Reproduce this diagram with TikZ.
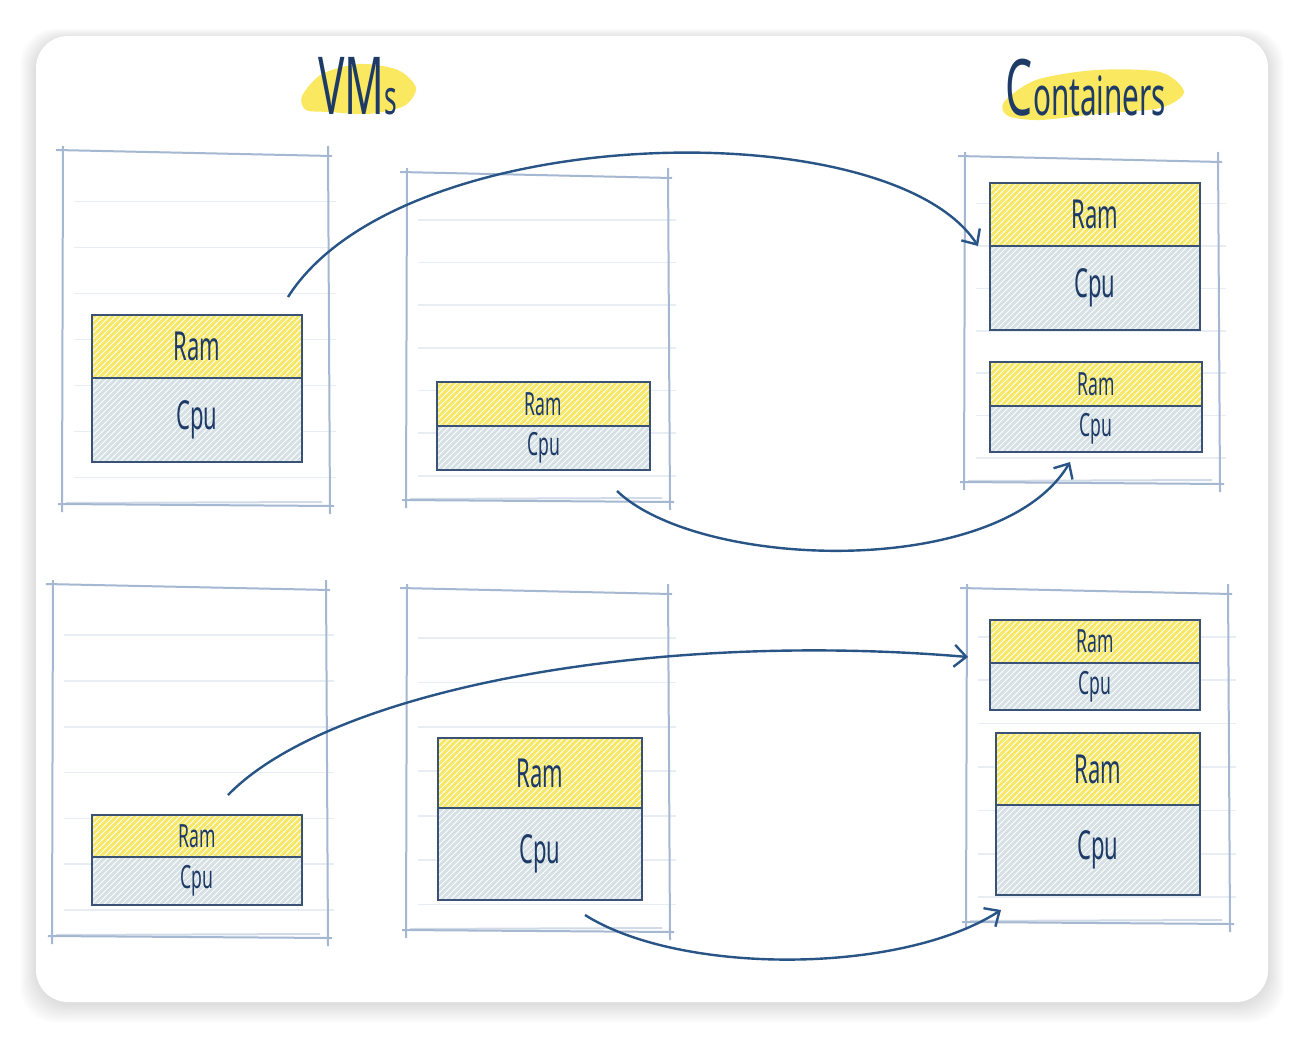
\documentclass[tikz,border=0pt]{standalone}
\usepackage{fontspec}
\setmainfont{Noto Sans}[FakeStretch=0.55]
\usetikzlibrary{arrows.meta,patterns}

\definecolor{inkblue}{RGB}{30,58,102}
\definecolor{boxline}{RGB}{58,82,118}
\definecolor{framecol}{RGB}{165,184,210}
\definecolor{faintcol}{RGB}{232,237,244}
\definecolor{ramyellow}{RGB}{246,232,102}
\definecolor{cpugray}{RGB}{214,225,230}
\definecolor{arrowcol}{RGB}{40,84,134}
\definecolor{splashcol}{RGB}{250,228,70}

\tikzset{
  hatched/.style={preaction={fill=#1},
    preaction={pattern=north east lines, pattern color=white, fill opacity=0.45}},
  rambox/.style={hatched=ramyellow, draw=boxline, line width=1.2pt, inner sep=0pt, outer sep=0pt, text=inkblue},
  cpubox/.style={hatched=cpugray, draw=boxline, line width=1.2pt, inner sep=0pt, outer sep=0pt, text=inkblue},
  flow/.style={draw=arrowcol, line width=1.2pt, -{Straight Barb[length=6pt,width=11pt]}},
  sketch/.style={draw=framecol, line width=1pt},
  faint/.style={draw=faintcol, line width=0.8pt},
  title/.style={text=inkblue, inner sep=0pt}
}

% ram over cpu: name, x, y, width, ram h, cpu h, font size
\newcommand{\ramcpu}[7]{%
  \node[rambox, font=\fontsize{#7}{#7}\selectfont, minimum width=#4*0.5pt, minimum height=#5*0.5pt, anchor=north west] (#1ram) at (#2,#3) {Ram};
  \node[cpubox, font=\fontsize{#7}{#7}\selectfont, minimum width=#4*0.5pt, minimum height=#6*0.5pt, anchor=north west] (#1cpu) at (#1ram.south west) {Cpu};
}

% hand drawn frame with ruled lines
\newcommand{\vmframe}[4]{%
  \foreach \f in {0.14,0.27,0.4,0.53,0.66,0.79,0.92}
    \draw[faint] ({#1+12},{#2+\f*(#4-#2)}) -- ({#3+8},{#2+\f*(#4-#2)});
  \draw[sketch] (#1-6,#2-2) -- (#3+4,#2+4);
  \draw[sketch] (#3,#2-6) -- (#3+2,#4+8);
  \draw[sketch] (#3+6,#4) -- (#1-4,#4-2);
  \draw[sketch] (#1,#4+6) -- (#1+1,#2-6);
  \draw[sketch, opacity=0.5] (#1+4,#4-3) -- (#3-6,#4-4);
}

\begin{document}
\begin{tikzpicture}[x=0.5pt,y=-0.5pt]
\useasboundingbox (0,0) rectangle (1304,1038);
\fill[white] (0,0) rectangle (1304,1038);
% card and its shadow
\foreach \s in {1,...,16}
  \fill[black, fill opacity=0.009, rounded corners=18pt] (36-\s,38-\s*0.6) rectangle (1268+\s,1004+\s*1.2);
\fill[white, rounded corners=16pt] (36,36) rectangle (1268,1002);

% frames
\vmframe{62}{152}{328}{506}
\vmframe{406}{174}{668}{502}
\vmframe{52}{586}{326}{938}
\vmframe{406}{590}{668}{932}
\vmframe{964}{158}{1218}{484}
\vmframe{966}{590}{1228}{924}

% titles
\fill[splashcol, opacity=0.85] plot[smooth cycle] coordinates {(302,96) (322,74) (360,64) (398,70) (416,88) (404,106) (368,114) (330,112) (306,110)};
\fill[splashcol, opacity=0.85] plot[smooth cycle] coordinates {(1004,102) (1036,80) (1096,70) (1160,72) (1184,92) (1160,108) (1096,114) (1040,120) (1008,116)};
\node[title, font=\fontsize{40}{40}\selectfont] (vmtitle) at (358,86) {VM{\fontsize{24}{24}\selectfont s}};
\node[title, font=\fontsize{27}{27}\selectfont] (cttitle) at (1086,88) {{\fontsize{39}{39}\selectfont C}ontainers};

% ram / cpu blocks
\ramcpu{a}{92}{315}{210}{63}{84}{20}
\ramcpu{b}{437}{382}{213}{44}{44}{16}
\ramcpu{c}{92}{815}{210}{42}{48}{16}
\ramcpu{d}{438}{738}{204}{70}{92}{20}
\ramcpu{ea}{990}{183}{210}{63}{84}{20}
\ramcpu{eb}{990}{362}{212}{44}{46}{16}
\ramcpu{fa}{990}{620}{210}{43}{47}{16}
\ramcpu{fb}{996}{733}{204}{72}{90}{20}

% arrow ends
\coordinate (aout) at ([xshift=-7pt,yshift=9pt]aram.north east);
\coordinate (bout) at ([xshift=-16.5pt,yshift=-10.5pt]bcpu.south east);
\coordinate (cout) at ([xshift=15.5pt,yshift=10pt]cram.north);
\coordinate (dout) at ([xshift=22.5pt,yshift=-7.5pt]dcpu.south);
\coordinate (eain) at ([xshift=-6pt]earam.south west);
\coordinate (ebin) at ([xshift=-13pt,yshift=-5pt]ebcpu.south);
\coordinate (fain) at ([xshift=-11pt,yshift=3pt]faram.south west);
\coordinate (fbin) at ([xshift=2.5pt,yshift=-7.5pt]fbcpu.south west);

\draw[flow] (aout) .. controls (400,120) and (890,110) .. (eain);
\draw[flow] (bout) .. controls (700,570) and (1000,580) .. (ebin);
\draw[flow] (cout) .. controls (330,690) and (650,630) .. (fain);
\draw[flow] (dout) .. controls (680,975) and (900,975) .. (fbin);
\end{tikzpicture}
\end{document}
